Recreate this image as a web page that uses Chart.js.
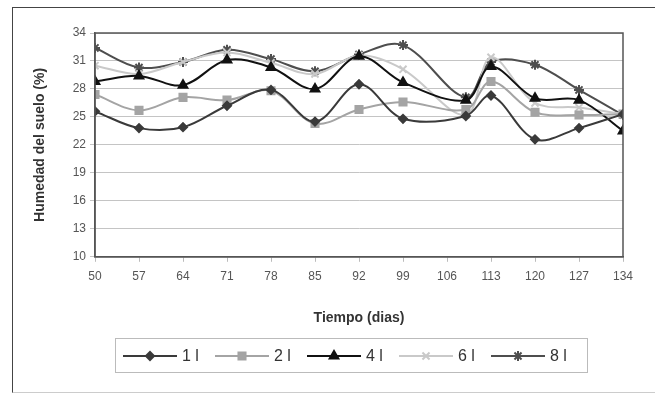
<!DOCTYPE html>
<html>
<head>
<meta charset="utf-8">
<script src="https://cdn.jsdelivr.net/npm/chart.js@4"></script>
<style>
  html, body { margin: 0; padding: 0; background: #fff; }
  #wrap { position: relative; width: 655px; height: 393px; }
  #frame { position: absolute; left: 12px; top: 7px; width: 660px; height: 384px;
           border-left: 1px solid #444; border-top: 1px solid #444; border-bottom: 1px solid #ccc; }
  canvas#chart { position: absolute; left: 0; top: 0; }
  #legend { position: absolute; left: 115px; top: 338px; width: 464px; height: 33px;
            border: 1.5px solid #bbb; display: flex; align-items: center; padding-left: 7px; box-sizing: content-box;
            font-family: 'Liberation Sans', Arial, sans-serif; font-size: 16px; color: #333; }
  #legend .item { width: 92px; display: flex; align-items: center; }
  #legend .item span { margin-left: 5px; }
</style>
</head>
<body>
<div id="wrap">
  <div id="frame"></div>
  <canvas id="chart" width="655" height="393"></canvas>
  <div id="legend"></div>
</div>
<script>
// tiempo (dias) y humedad del suelo (%)
var days = [50, 57, 64, 71, 78, 85, 92, 99, 109, 113, 120, 127, 134];
var xTicks = [50, 57, 64, 71, 78, 85, 92, 99, 106, 113, 120, 127, 134];
var yTicks = [10, 13, 16, 19, 22, 25, 28, 31, 34];
var names = ['1 l', '2 l', '4 l', '6 l', '8 l'];
var s1 = [25.6, 23.8, 23.9, 26.2, 27.9, 24.5, 28.5, 24.8, 25.1, 27.3, 22.6, 23.8, 25.3];
var s2 = [27.4, 25.7, 27.1, 26.8, 27.8, 24.3, 25.8, 26.6, 25.8, 28.8, 25.5, 25.2, 25.3];
var s3 = [28.8, 29.4, 28.4, 31.1, 30.3, 28.0, 31.5, 28.7, 26.8, 30.4, 27.0, 26.8, 23.5];
var s4 = [30.5, 29.6, 30.9, 31.9, 30.8, 29.6, 31.6, 30.1, 25.2, 31.4, 26.5, 26.0, 25.3];
var s5 = [32.4, 30.3, 30.9, 32.2, 31.2, 29.9, 31.7, 32.7, 27.1, 30.9, 30.6, 27.9, 25.2];

var series = [s1, s2, s3, s4, s5];
var colors = ['#3a3a3a', '#a4a4a4', '#111111', '#c9c9c9', '#4e4e4e'];
var styles = ['rectRot', 'rect', 'triangle', 'crossRot', 'star'];
var radii = [4, 5, 5, 5, 5];

function legendIcon(i) {
    var c = document.createElement('canvas');
    c.width = 54; c.height = 14;
    var g = c.getContext('2d');
    g.strokeStyle = colors[i];
    g.fillStyle = colors[i];
    g.lineWidth = 2;
    g.beginPath(); g.moveTo(0, 7); g.lineTo(54, 7); g.stroke();
    Chart.helpers.drawPoint(g, {pointStyle: styles[i], radius: radii[i], borderWidth: 2, rotation: 0}, 27, 7);
    if (styles[i] == 'rectRot' || styles[i] == 'rect' || styles[i] == 'triangle') g.fill();
    return c;
}

// leyenda en html con el icono linea + marcador
var legendEl = document.getElementById('legend');
names.forEach(function(n, i) {
    var item = document.createElement('div');
    item.className = 'item';
    item.appendChild(legendIcon(i));
    var t = document.createElement('span');
    t.textContent = n;
    item.appendChild(t);
    legendEl.appendChild(item);
});

var datasets = series.map(function(s, i) {
    return {
        label: names[i],
        data: days.map(function(d, j) { return {x: d, y: s[j]} }),
        borderColor: colors[i],
        backgroundColor: colors[i],
        borderWidth: 2,
        pointStyle: styles[i],
        pointRadius: radii[i],
        pointBorderWidth: 2,
        tension: 0.35,
        fill: false
    }
});

var framePlugin = {
    id: 'frame',
    afterDraw: function(chart) {
        var ctx = chart.ctx, a = chart.chartArea;
        ctx.save();
        ctx.strokeStyle = '#555';
        ctx.lineWidth = 1.5;
        ctx.strokeRect(a.left, a.top, a.right - a.left, a.bottom - a.top);
        ctx.restore();
    }
};

var ctx = document.getElementById('chart').getContext('2d');
new Chart(ctx, {
    type: 'line',
    data: {datasets: datasets},
    plugins: [framePlugin],
    options: {
        responsive: false,
        animation: false,
        layout: {padding: {left: 28, right: 32, top: 33, bottom: 62}},
        plugins: {
            tooltip: {enabled: false},
            legend: {display: false}
        },
        scales: {
            x: {
                type: 'linear',
                min: 50, max: 134,
                afterBuildTicks: function(scale) {
                    scale.ticks = xTicks.map(function(v) { return {value: v} });
                },
                grid: {drawOnChartArea: false, color: '#bbb', tickLength: 5},
                border: {color: '#555', width: 1.5},
                ticks: {color: '#555', font: {family: 'Liberation Sans, Arial', size: 12}, autoSkip: false, maxRotation: 0, padding: 8},
                title: {display: true, text: 'Tiempo (dias)', color: '#333',
                        font: {family: 'Liberation Sans, Arial', size: 14, weight: 'bold'}, padding: {top: 18}}
            },
            y: {
                min: 10, max: 34,
                afterBuildTicks: function(scale) {
                    scale.ticks = yTicks.map(function(v) { return {value: v} });
                },
                afterFit: function(scale) { scale.width = 67; },
                grid: {color: '#c4c4c4', lineWidth: 1, tickLength: 5},
                border: {color: '#555', width: 1.5},
                ticks: {color: '#555', font: {family: 'Liberation Sans, Arial', size: 12}, padding: 4},
                title: {display: true, text: 'Humedad del suelo (%)', color: '#333',
                        font: {family: 'Liberation Sans, Arial', size: 14, weight: 'bold'}, padding: {bottom: 8}}
            }
        }
    }
});
</script>
</body>
</html>
